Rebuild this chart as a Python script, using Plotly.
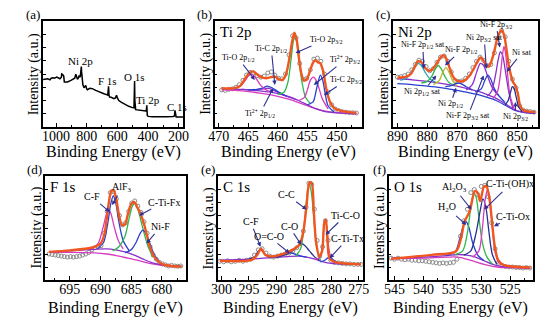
import plotly.graph_objects as go

FONT = "Liberation Serif"

# ---------------- (a) survey ----------------
A_SURVEY_E = [1085, 1075, 1054, 1040, 1032, 1020, 1011, 995, 989, 975, 965, 963, 957, 950, 946, 925, 903, 892, 878, 871,
              864, 860, 852, 849, 842, 838, 835, 833, 829, 825, 817, 811, 806, 800, 795, 780, 763, 741, 725, 709,
              687, 670, 663, 659, 657, 654, 650, 640, 622, 612, 605, 598, 590, 575, 558, 540, 525, 505, 497, 491,
              489, 487, 485, 480, 460, 428, 414, 410, 407, 404, 398, 370, 320, 280, 235, 226, 223, 219, 215, 168]
A_SURVEY_I = [44.7, 45, 45.5, 44.5, 46, 46.5, 46, 47, 46.5, 45.5, 47, 50, 49.5, 48, 42.5, 42.5, 44, 44.7, 46, 49.7,
              47, 45, 47, 48.7, 47, 54, 57, 52, 44, 40, 37, 38, 39.3, 36, 35.2, 36.5, 36.2, 34.6, 33.5, 33,
              31.4, 30.5, 30, 35, 38.4, 30, 28.3, 28, 26.7, 27.5, 30, 27, 25, 23.5, 22, 20.5, 19.5, 18.5, 18.2, 18,
              30, 43.4, 25, 16.4, 16, 14.8, 15.2, 16, 20.4, 11, 10, 9.6, 9.4, 9.6, 10, 10.5, 15.7, 10, 9.4, 9.4]
A_LABELS = [("Ni 2p", 838, 62), ("F 1s", 662, 43.5), ("O 1s", 490, 47.5), ("Ti 2p", 396, 25), ("C 1s", 213, 18.6)]

# ---------------- (b) Ti 2p ----------------
B_DATA_E = [469.5, 468.9, 468.3, 467.7, 467.1, 466.5, 465.9, 465.3, 464.7, 464.1, 463.5, 462.9, 462.3, 461.7,
            461.1, 460.5, 459.9, 459.3, 458.7, 458.1, 457.5, 456.9, 456.3, 455.7, 455.1, 454.5, 453.9, 453.3,
            452.7, 452.1, 451.5, 450.9, 450.3, 449.7, 449.1, 448.5, 447.9, 447.3, 446.7]
B_DATA_I = [35, 34.5, 35.5, 36, 37.5, 40, 44, 49, 51.5, 51, 48.5, 47, 48, 51,
            52, 49, 46, 45.5, 50, 68, 86, 84, 60, 45, 46, 54, 64, 65,
            62, 50, 33, 21, 17, 15.5, 14.5, 14, 13.5, 13.5, 13.2]
B_FIT_E = [469.5, 467.5, 466.3, 465.5, 464.8, 464.2, 463.6, 462.8, 462.0, 461.2, 460.5, 459.8, 459.2, 458.6, 458.0,
           457.6, 457.2, 456.8, 456.4, 456.0, 455.6, 455.1, 454.6, 454.1, 453.7, 453.2, 452.8, 452.3, 451.8, 451.2,
           450.5, 449.5, 448.0, 446.7]
B_FIT_I = [36.5, 36.5, 39, 46, 51, 52.5, 50, 47, 46, 47, 47.5, 45, 44.5, 50, 66,
           80, 89, 82, 64, 50, 44, 45, 52, 60, 63, 61, 60, 52, 36, 24,
           18, 15.5, 14, 13.3]
B_BG1_E = [469.5, 466, 463, 460, 458, 456.5, 455, 453.5, 452, 450, 448, 446.7]
B_BG1_I = [36, 35.5, 34, 31.5, 28.5, 25, 21, 17, 14.5, 13.3, 12.8, 12.7]
B_BG2_E = [469.5, 466, 463, 460, 458, 456, 454, 452, 450, 448, 446.7]
B_BG2_I = [35, 34, 32, 29, 26, 22, 18, 15, 13.5, 12.8, 12.5]
B_TIO32_E = [460, 459, 458.3, 457.8, 457.4, 457.1, 456.8, 456.4, 455.9, 455.3, 454.5]
B_TIO32_I = [31, 32.5, 42, 62, 80, 87, 80, 62, 42, 28, 22]
B_TIO12_E = [468, 466.5, 465.5, 465, 464.6, 464.2, 463.7, 463, 462, 461]
B_TIO12_I = [36, 38, 44, 48, 49.5, 49, 46, 40, 35, 33]
B_TI2_32_E = [456.5, 455.5, 455, 454.5, 454.0, 453.5, 453, 452.5, 451.5]
B_TI2_32_I = [25, 28, 35, 44, 47, 44, 36, 27, 17]
B_TIC32_E = [455, 454, 453.6, 453.2, 452.8, 452.4, 452.0, 451.5, 450.5]
B_TIC32_I = [21, 24, 32, 42, 49, 44, 32, 20, 14]
B_TIC12_E = [465, 463.5, 462.5, 461.8, 461, 460, 458.5]
B_TIC12_I = [35, 35.5, 37, 38.5, 37, 33.5, 29]
B_TI2_12_E = [466, 464, 462.5, 461.5, 460.5, 459, 457]
B_TI2_12_I = [35.5, 35, 36, 36.5, 34, 30, 26]
B_LABELS = [("Ti-O 2p<sub>1/2</sub>", 466.7, 65, 463.9, 44.4),
            ("Ti-C 2p<sub>1/2</sub>", 461.1, 73.6, 460.5, 39.7),
            ("Ti-O 2p<sub>3/2</sub>", 451.8, 82.5, 457.0, 69.8),
            ("Ti<sup>2+</sup> 2p<sub>3/2</sub>", 448.6, 63.5, 453.9, 39.7),
            ("Ti-C 2p<sub>3/2</sub>", 448.4, 44.4, 452.2, 30),
            ("Ti<sup>2+</sup> 2p<sub>1/2</sub>", 463.0, 12.7, 460.8, 36.5)]

# ---------------- (c) Ni 2p ----------------
C_DATA_E = [890, 888.8, 887.6, 886.4, 885.2, 884, 882.8, 881.6, 880.4, 879.2, 878, 876.8, 875.6, 874.4,
            873.2, 872, 870.8, 869.6, 868.4, 867.2, 866, 864.8, 863.6, 862.4, 861.2, 860, 858.8, 857.6,
            856.4, 855.2, 854, 852.8, 851.6, 850.4, 849.2, 848, 846.8, 845.6, 844.4]
C_DATA_I = [47, 47.5, 48.5, 50, 54, 59, 63, 62, 57, 53, 55, 61, 66, 67,
            62, 52, 44, 43, 43.5, 46, 50, 56, 62, 66, 63, 58, 59, 70,
            84, 91, 85, 62, 45, 37, 20, 16, 15, 14.5, 14]
C_FIT_E = [890, 887, 885.5, 884.3, 883.2, 882, 880.8, 879.6, 878.5, 877.3, 876.2, 875.2, 874.5, 873.6, 872.6,
           871.5, 870.3, 869, 867.5, 866, 864.5, 863.2, 862.2, 861.3, 860.4, 859.5, 858.6, 857.6, 856.6, 855.6,
           855, 854.3, 853.6, 852.8, 852, 851.3, 850.6, 849.8, 849, 848, 846, 844]
C_FIT_I = [46.5, 47.5, 50, 56, 62, 61, 56, 53, 54, 58, 63, 67, 67.5, 64, 56,
           48, 44, 43, 44, 48, 55, 62, 65.5, 63, 58, 57, 62, 72, 84, 90,
           91, 86, 74, 58, 48, 42, 39, 32, 20, 16, 14.5, 14]
C_BG1_E = [890, 885, 880, 875, 871, 867, 863, 860, 857, 854, 851, 848, 844]
C_BG1_I = [45.5, 44.5, 43, 41, 39, 36.5, 33.5, 30.5, 27, 22, 16.5, 14, 13.2]
C_BG2_E = [890, 885, 880, 875, 871, 867, 863, 860, 857, 854, 851, 848, 844]
C_BG2_I = [41, 40, 38.5, 37, 35, 33, 30.5, 28, 25, 20.5, 16, 13.8, 13]
C_NIF12SAT_E = [889, 887, 885.5, 884.3, 883.2, 882, 880.6, 879, 877]
C_NIF12SAT_I = [44, 46, 51, 57, 60, 58, 51, 45, 42]
C_NI12SAT_E = [882, 880, 878.5, 877.3, 876.4, 875.4, 874.2, 872.8, 871]
C_NI12SAT_I = [41.5, 43, 48, 55, 58, 55, 48, 42, 39.5]
C_NIF12_E = [878, 876, 874.8, 873.8, 872.8, 871.6, 870]
C_NIF12_I = [40, 44, 52, 56, 52, 44, 38.5]
C_NI12_E = [874, 872, 870.5, 869.5, 868.5, 867, 865]
C_NI12_I = [38, 39, 41, 41.5, 40.5, 38, 35]
C_NIF32SAT_E = [867, 865, 863.5, 862.3, 861.2, 860, 858.5, 856.5]
C_NIF32SAT_I = [35, 40, 52, 60, 58, 49, 38, 30]
C_NI32SAT_E = [864, 862, 860.8, 859.8, 858.8, 857.6, 856, 854]
C_NI32SAT_I = [33, 36, 44, 49, 45, 36, 29, 23]
C_NIF32_E = [860, 858.5, 857.3, 856.3, 855.6, 854.9, 854.0, 852.8, 851.5]
C_NIF32_I = [29, 34, 48, 64, 71, 68, 54, 33, 18]
C_NISAT_E = [858, 856.5, 855.5, 854.9, 854.4, 853.9, 853.2, 852.4, 851]
C_NISAT_I = [27, 34, 52, 68, 76, 70, 50, 30, 17]
C_NI32_E = [854, 853, 852.2, 851.6, 851.0, 850.3, 849.5, 848.3]
C_NI32_I = [21, 25, 33, 38, 36, 28, 19, 14.5]
C_LABELS = [("Ni-F 2p<sub>3/2</sub>", 857.0, 96.5, 855.8, 75),
            ("Ni 2p<sub>3/2</sub> sat", 861.0, 84, 860.3, 55),
            ("Ni-F 2p<sub>1/2</sub>", 868.8, 72.3, 874.1, 58),
            ("Ni-F 2p<sub>1/2</sub> sat", 881.5, 77, 881.2, 55),
            ("Ni sat", 848.5, 70, 853.5, 52),
            ("Ni 2p<sub>1/2</sub> sat", 881.5, 33, 877.0, 48.7),
            ("Ni 2p<sub>1/2</sub>", 872.3, 21.5, 870.4, 37),
            ("Ni-F 2p<sub>3/2</sub> sat", 866.5, 10, 861.2, 48.7),
            ("Ni 2p<sub>3/2</sub>", 850.5, 9.4, 850.6, 23.6)]

# ---------------- (d) F 1s ----------------
D_DATA_E = [698.4, 697.9, 697.4, 696.9, 696.4, 695.9, 695.4, 694.9, 694.4, 693.9, 693.4, 692.9, 692.4, 691.9,
            691.4, 690.9, 690.4, 689.9, 689.4, 688.9, 688.4, 687.9, 687.4, 686.9, 686.4, 685.9, 685.4, 684.9,
            684.4, 683.9, 683.4, 682.9, 682.4, 681.9, 681.4, 680.9, 680.4, 679.9, 679.4, 678.9, 678.4, 677.9,
            677.4, 676.9]
D_DATA_I = [25, 24.5, 24, 23.5, 23, 22.5, 22, 22.5, 22, 22.5, 23, 24, 25, 26.5,
            29, 31, 32, 33, 45, 66, 84, 85, 78, 62, 53, 55, 66, 74,
            76, 71, 65, 56, 45, 32, 24, 20, 17, 15.5, 14.5, 13.5, 14, 13.5, 13.2, 13.5]
D_FIT_E = [698.4, 695, 691.5, 690, 689.4, 689.0, 688.6, 688.2, 687.8, 687.4, 687.0, 686.5, 686.0, 685.5, 685.0,
           684.5, 684.0, 683.5, 683.0, 682.5, 682.0, 681.4, 680.8, 679.8, 678.5, 676.8]
D_FIT_I = [27, 28.5, 31, 35, 43, 58, 76, 86, 85.5, 77, 63, 53, 53.5, 64, 73,
           75, 70, 64, 56, 45, 33, 24, 19, 15, 13.5, 13]
D_BG1_E = [698.4, 695, 691, 689, 687.5, 686, 684.5, 683, 681.5, 680, 678.5, 676.8]
D_BG1_I = [27, 28, 29.5, 30, 29, 27, 24, 20, 16.5, 14.5, 13.5, 13.2]
D_BG2_E = [698.4, 695, 691, 689, 687, 685.5, 684, 682, 680, 678.5, 676.8]
D_BG2_I = [26.5, 26.5, 26, 25, 23, 21, 19, 16, 14.2, 13.5, 13]
D_CF_E = [691.5, 690.4, 689.6, 689.1, 688.7, 688.3, 687.8, 687.1, 686.3]
D_CF_I = [30, 35, 50, 62, 68, 64, 52, 38, 30]
D_ALF3_E = [690.5, 689.5, 688.8, 688.3, 687.9, 687.5, 687.0, 686.3, 685.3]
D_ALF3_I = [30, 36, 55, 74, 81, 74, 56, 38, 28]
D_CTIFX_E = [688, 687, 686, 685.3, 684.8, 684.4, 683.9, 683.2, 682.4, 681.5]
D_CTIFX_I = [28, 32, 42, 60, 71, 73.5, 68, 52, 35, 22]
D_NIF_E = [686, 685, 684.2, 683.6, 683.1, 682.6, 682.0, 681.2, 680.2]
D_NIF_I = [26, 29, 36, 44, 48, 45, 36, 24, 16]
D_LABELS = [("C-F", 691.4, 80, 688.5, 65.5),
            ("AlF<sub>3</sub>", 686.5, 89, 688.1, 72),
            ("C-Ti-Fx", 679.6, 75, 683.7, 62),
            ("Ni-F", 680.2, 51, 682.5, 35)]

# ---------------- (e) C 1s ----------------
E_DATA_E = [300.3, 299.6, 298.9, 298.2, 297.5, 296.8, 296.1, 295.4, 294.7, 294, 293.3, 292.6, 291.9, 291.2,
            290.5, 289.8, 289.1, 288.4, 287.7, 287, 286.3, 285.6, 285.1, 284.6, 284.1, 283.6, 283.1, 282.6,
            282.1, 281.6, 281.1, 280.6, 280.1, 279.4, 278.7, 278, 277.3, 276.6, 275.9, 275.2, 274.6]
E_DATA_I = [18, 17.5, 18.5, 17.5, 18, 19, 18, 19, 20, 24, 29, 30, 26, 23,
            22, 23, 24, 25, 26, 28, 31, 35, 47, 70, 93, 92, 68, 38,
            23, 32, 57, 38, 19, 17, 16.5, 16, 15.5, 15.5, 15, 15, 15]
E_FIT_E = [300.3, 294.5, 293.5, 292.8, 292, 290.8, 288.9, 287.1, 285.8, 285.1, 284.5, 284.0, 283.6, 283.2,
           282.8, 282.2, 281.7, 281.3, 281.0, 280.7, 280.3, 279.1, 274.6]
E_FIT_I = [18.4, 19.4, 24, 30, 24, 22.6, 24.8, 29, 33.9, 46.8, 72.6, 93.5, 93.5, 66,
           37, 22.6, 27.4, 54.8, 58, 37, 20.3, 17, 15.2]
E_BG_E = [300.3, 295, 291, 288, 286, 284.5, 283, 281.5, 280, 278, 276, 274.6]
E_BG_I = [19, 20, 21.5, 22.5, 23, 22, 20, 17.5, 16, 15.3, 15, 15]
E_CF_E = [295, 294, 293.4, 292.9, 292.4, 291.7, 290.8]
E_CF_I = [20, 22, 27, 29.5, 27, 23, 21.5]
E_OCO_E = [291, 289.5, 288.3, 287.5, 286.7, 285.5, 284.5]
E_OCO_I = [21.5, 23, 25, 26, 25, 23, 22]
E_CO_E = [290, 288, 286.8, 286, 285.4, 284.8, 284, 283, 282]
E_CO_I = [22, 25, 29, 33, 35, 33, 28, 22, 18.5]
E_CC_E = [286.5, 285.6, 285.0, 284.5, 284.1, 283.7, 283.2, 282.7, 282.0]
E_CC_I = [23, 30, 50, 78, 92, 86, 60, 32, 19]
E_TICO_E = [283, 282.2, 281.7, 281.35, 281.05, 280.75, 280.4, 279.8, 279]
E_TICO_I = [20, 21, 30, 50, 57, 47, 28, 18, 16]
E_CTITX_E = [282, 281.2, 280.7, 280.3, 279.8, 279, 278]
E_CTITX_I = [17.5, 19, 21, 22, 20, 17, 15.5]
E_LABELS = [("C-C", 288.1, 82, 284.5, 67.7),
            ("C-F", 294.7, 56, 292.9, 32),
            ("O=C-O", 291.4, 42, 287.6, 25.8),
            ("C-O", 287.7, 51.6, 285.5, 33.9),
            ("Ti-C-O", 277.4, 62, 281.05, 43.5),
            ("C-Ti-Tx", 277.0, 39.7, 280.3, 21)]

# ---------------- (f) O 1s ----------------
F_DATA_E = [545.6, 545, 544.4, 543.8, 543.2, 542.6, 542, 541.4, 540.8, 540.2, 539.6, 539, 538.4, 537.8, 537.2,
            536.6, 536, 535.4, 534.8, 534.2, 533.6, 533, 532.4, 531.8, 531.2, 530.6, 530, 529.4, 528.8, 528.2,
            527.6, 527, 526.4, 525.8, 525.2, 524.6, 524, 523.4, 522.8, 522.2, 521.6]
F_DATA_I = [21, 20, 21, 20, 19.5, 20, 19, 19, 18.5, 18.5, 18, 17.5, 17, 16.5, 16,
            16.5, 16, 16.5, 17, 20, 42, 57, 68, 84, 87, 82, 90, 91, 80, 55,
            30, 17, 14, 13, 12.5, 12.5, 12, 12, 11.5, 12, 11.5]
F_FIT_E = [545.6, 538.6, 534.4, 533.5, 532.9, 532.0, 531.1, 530.6, 530.2, 529.5, 529.1, 528.6, 528.2, 527.7,
           527.1, 526.2, 521.5]
F_FIT_I = [20.3, 24.2, 27.4, 40, 56, 66, 85.5, 84, 75.8, 90, 90, 79, 59.7, 34, 19.4, 14.5, 12]
F_BG1_E = [545.6, 540, 536, 534, 532.5, 531, 529.5, 528, 526.5, 524, 521.5]
F_BG1_I = [21, 22, 23.5, 24.5, 24, 22, 18.5, 15, 13, 12, 11.5]
F_BG2_E = [545.6, 540, 536, 534, 532.5, 531, 529.5, 528, 526.5, 524, 521.5]
F_BG2_I = [20.5, 21, 22, 22, 20, 17.5, 15, 13, 12, 11.8, 11.5]
F_H2O_E = [536, 534.5, 533.7, 533.1, 532.6, 532.1, 531.5, 530.6, 529.5]
F_H2O_I = [23.5, 27, 40, 52, 56, 50, 36, 24, 18.5]
F_AL2O3_E = [534.5, 533.2, 532.4, 531.8, 531.3, 530.9, 530.4, 529.8, 529, 528]
F_AL2O3_I = [24.5, 28, 45, 70, 83, 80, 60, 36, 22, 15]
F_OH_E = [533, 531.8, 530.9, 530.2, 529.7, 529.2, 528.7, 528.1, 527.3]
F_OH_I = [24, 28, 45, 66, 78, 70, 48, 25, 15]
F_OX_E = [531.5, 530.4, 529.8, 529.3, 528.9, 528.5, 528.1, 527.6, 527]
F_OX_I = [22, 28, 50, 78, 87, 78, 52, 27, 16]
F_LABELS = [("Al<sub>2</sub>O<sub>3</sub>", 534.7, 88.7, 531.7, 67.7),
            ("H<sub>2</sub>O", 535.9, 69.4, 532.6, 53),
            ("C-Ti-(OH)x", 525.0, 92, 529.5, 67.7),
            ("C-Ti-Ox", 524.5, 61.3, 527.8, 51.6)]

# ---------------- panel settings ----------------
PANEL_LETTERS = ["(a)", "(b)", "(c)", "(d)", "(e)", "(f)"]
PANEL_TITLES = [None, "Ti 2p", "Ni 2p", "F 1s", "C 1s", "O 1s"]
X_RANGES = [[1085, 168], [470.7, 445.8], [891.5, 843.0], [699.0, 676.0], [300.6, 274.3], [546.0, 521.0]]
X_DTICKS = [200, 5, 10, 5, 5, 5]

W, H = 550, 322
BOX_PX = [(37, 181, 21, 127), (213, 364, 21, 127), (396, 545, 21, 127),
          (39.3, 184, 176, 280), (216.7, 365, 176, 280), (391.7, 540, 176, 280)]

RED = "#f0561f"
GREEN = "#2db84d"
BLUE = "#2a3fd0"
NAVY = "#27308f"
MAGENTA = "#d63cc0"
PURPLE = "#8b2fc9"
TEAL = "#2aa5b8"
OLIVE = "#b5b82a"
ARROW = "#2e3192"
GRAY = "#8a8a8a"

fig = go.Figure()


def axn(i):
    return ("x" if i == 1 else f"x{i}"), ("y" if i == 1 else f"y{i}")


def line(i, xs, ys, color, width=1.3, shape="spline"):
    xa, ya = axn(i)
    fig.add_trace(go.Scatter(x=xs, y=ys, mode="lines", xaxis=xa, yaxis=ya,
                             line=dict(color=color, width=width, shape=shape, smoothing=0.8),
                             showlegend=False, hoverinfo="skip"))


def dots(i, xs, ys):
    xa, ya = axn(i)
    fig.add_trace(go.Scatter(x=xs, y=ys, mode="markers", xaxis=xa, yaxis=ya,
                             marker=dict(symbol="circle-open", size=4, color=GRAY, line=dict(width=1, color=GRAY)),
                             showlegend=False, hoverinfo="skip"))


# (a)
line(1, A_SURVEY_E, A_SURVEY_I, "black", 1.5, "linear")

# (b)
dots(2, B_DATA_E, B_DATA_I)
line(2, B_BG2_E, B_BG2_I, MAGENTA)
line(2, B_BG1_E, B_BG1_I, PURPLE)
line(2, B_TI2_12_E, B_TI2_12_I, PURPLE)
line(2, B_TIC12_E, B_TIC12_I, BLUE)
line(2, B_TIO12_E, B_TIO12_I, MAGENTA)
line(2, B_TIO32_E, B_TIO32_I, GREEN)
line(2, B_TI2_32_E, B_TI2_32_I, MAGENTA)
line(2, B_TIC32_E, B_TIC32_I, BLUE)
line(2, B_FIT_E, B_FIT_I, RED, 2.4)

# (c)
dots(3, C_DATA_E, C_DATA_I)
line(3, C_BG2_E, C_BG2_I, BLUE)
line(3, C_BG1_E, C_BG1_I, PURPLE)
line(3, C_NIF12SAT_E, C_NIF12SAT_I, TEAL)
line(3, C_NI12SAT_E, C_NI12SAT_I, GREEN)
line(3, C_NIF12_E, C_NIF12_I, OLIVE)
line(3, C_NI12_E, C_NI12_I, BLUE)
line(3, C_NIF32SAT_E, C_NIF32SAT_I, PURPLE)
line(3, C_NI32SAT_E, C_NI32SAT_I, BLUE)
line(3, C_NIF32_E, C_NIF32_I, PURPLE)
line(3, C_NISAT_E, C_NISAT_I, MAGENTA)
line(3, C_NI32_E, C_NI32_I, NAVY)
line(3, C_FIT_E, C_FIT_I, RED, 2.4)

# (d)
dots(4, D_DATA_E, D_DATA_I)
line(4, D_BG2_E, D_BG2_I, MAGENTA)
line(4, D_BG1_E, D_BG1_I, PURPLE)
line(4, D_CF_E, D_CF_I, MAGENTA)
line(4, D_ALF3_E, D_ALF3_I, BLUE)
line(4, D_CTIFX_E, D_CTIFX_I, GREEN)
line(4, D_NIF_E, D_NIF_I, BLUE)
line(4, D_FIT_E, D_FIT_I, RED, 2.4)

# (e)
dots(5, E_DATA_E, E_DATA_I)
line(5, E_BG_E, E_BG_I, PURPLE)
line(5, E_CF_E, E_CF_I, NAVY)
line(5, E_OCO_E, E_OCO_I, BLUE)
line(5, E_CO_E, E_CO_I, NAVY)
line(5, E_CC_E, E_CC_I, GREEN)
line(5, E_TICO_E, E_TICO_I, MAGENTA)
line(5, E_CTITX_E, E_CTITX_I, BLUE)
line(5, E_FIT_E, E_FIT_I, RED, 2.4)

# (f)
dots(6, F_DATA_E, F_DATA_I)
line(6, F_BG2_E, F_BG2_I, MAGENTA)
line(6, F_BG1_E, F_BG1_I, PURPLE)
line(6, F_H2O_E, F_H2O_I, BLUE)
line(6, F_AL2O3_E, F_AL2O3_I, GREEN)
line(6, F_OH_E, F_OH_I, NAVY)
line(6, F_OX_E, F_OX_I, MAGENTA)
line(6, F_FIT_E, F_FIT_I, RED, 2.4)

layout = dict(width=W, height=H, margin=dict(l=0, r=0, t=0, b=0),
              paper_bgcolor="white", plot_bgcolor="white", showlegend=False,
              font=dict(family=FONT, color="black"))
annotations = []

for k in range(6):
    i = k + 1
    xl, xr, yt, yb = BOX_PX[k]
    xd = [xl / W, xr / W]
    yd = [1 - yb / H, 1 - yt / H]
    sx = "" if i == 1 else str(i)
    layout["xaxis" + sx] = dict(domain=xd, range=X_RANGES[k], anchor="y" + sx,
                                showline=True, linecolor="black", linewidth=1.5, mirror=True,
                                ticks="inside", ticklen=4, tickwidth=1.2, tickcolor="black",
                                dtick=X_DTICKS[k], tick0=0, ticklabelstandoff=-5,
                                minor=dict(ticks="inside", ticklen=2, tickcolor="black", dtick=X_DTICKS[k] / 2),
                                tickfont=dict(family=FONT, size=14, color="black"),
                                showgrid=False, zeroline=False, fixedrange=True)
    layout["yaxis" + sx] = dict(domain=yd, range=[0, 100], anchor="x" + sx,
                                showline=True, linecolor="black", linewidth=1.5, mirror=True,
                                ticks="inside", ticklen=3, tickcolor="black", dtick=12.5,
                                showticklabels=False, showgrid=False, zeroline=False, fixedrange=True)
    cx = (xl + xr) / 2 / W
    cy = (yd[0] + yd[1]) / 2
    title_y = (1 - 152 / H) if k < 3 else (1 - 308 / H)
    annotations.append(dict(text="Binding Energy (eV)", x=cx, y=title_y, xref="paper", yref="paper",
                            showarrow=False, font=dict(family=FONT, size=16, color="black"),
                            xanchor="center", yanchor="middle"))
    annotations.append(dict(text="Intensity (a.u.)", x=(xl - 9) / W, y=cy, xref="paper", yref="paper",
                            showarrow=False, textangle=-90, font=dict(family=FONT, size=14, color="black"),
                            xanchor="center", yanchor="middle"))
    annotations.append(dict(text=PANEL_LETTERS[k], x=(xl - 1) / W, y=yd[1], xref="paper", yref="paper",
                            showarrow=False, font=dict(family=FONT, size=13, color="black"),
                            xanchor="right", yanchor="bottom", yshift=-3))
    if PANEL_TITLES[k]:
        annotations.append(dict(text=PANEL_TITLES[k], x=(xl + 3) / W, y=yd[1], xref="paper", yref="paper",
                                showarrow=False, font=dict(family=FONT, size=15, color="black"),
                                xanchor="left", yanchor="top", yshift=-1))

for (t, x, y) in A_LABELS:
    annotations.append(dict(text=t, x=x, y=y, xref="x", yref="y", showarrow=False,
                            font=dict(family=FONT, size=11, color="black")))


def arrow_labels(i, labels, size):
    xa, ya = axn(i)
    for (t, tx, ty, hx, hy) in labels:
        annotations.append(dict(text=t, x=hx, y=hy, ax=tx, ay=ty, xref=xa, yref=ya, axref=xa, ayref=ya,
                                showarrow=True, arrowhead=2, arrowsize=0.8, arrowwidth=1.1, arrowcolor=ARROW,
                                font=dict(family=FONT, size=size, color="black")))


arrow_labels(2, B_LABELS, 8)
arrow_labels(3, C_LABELS, 8)
arrow_labels(4, D_LABELS, 10)
arrow_labels(5, E_LABELS, 10)
arrow_labels(6, F_LABELS, 10)

layout["annotations"] = annotations
fig.update_layout(**layout)
fig.write_html("out.html", config={"displayModeBar": False},
               post_script="document.body.style.margin='0px';document.body.style.overflow='hidden';")
